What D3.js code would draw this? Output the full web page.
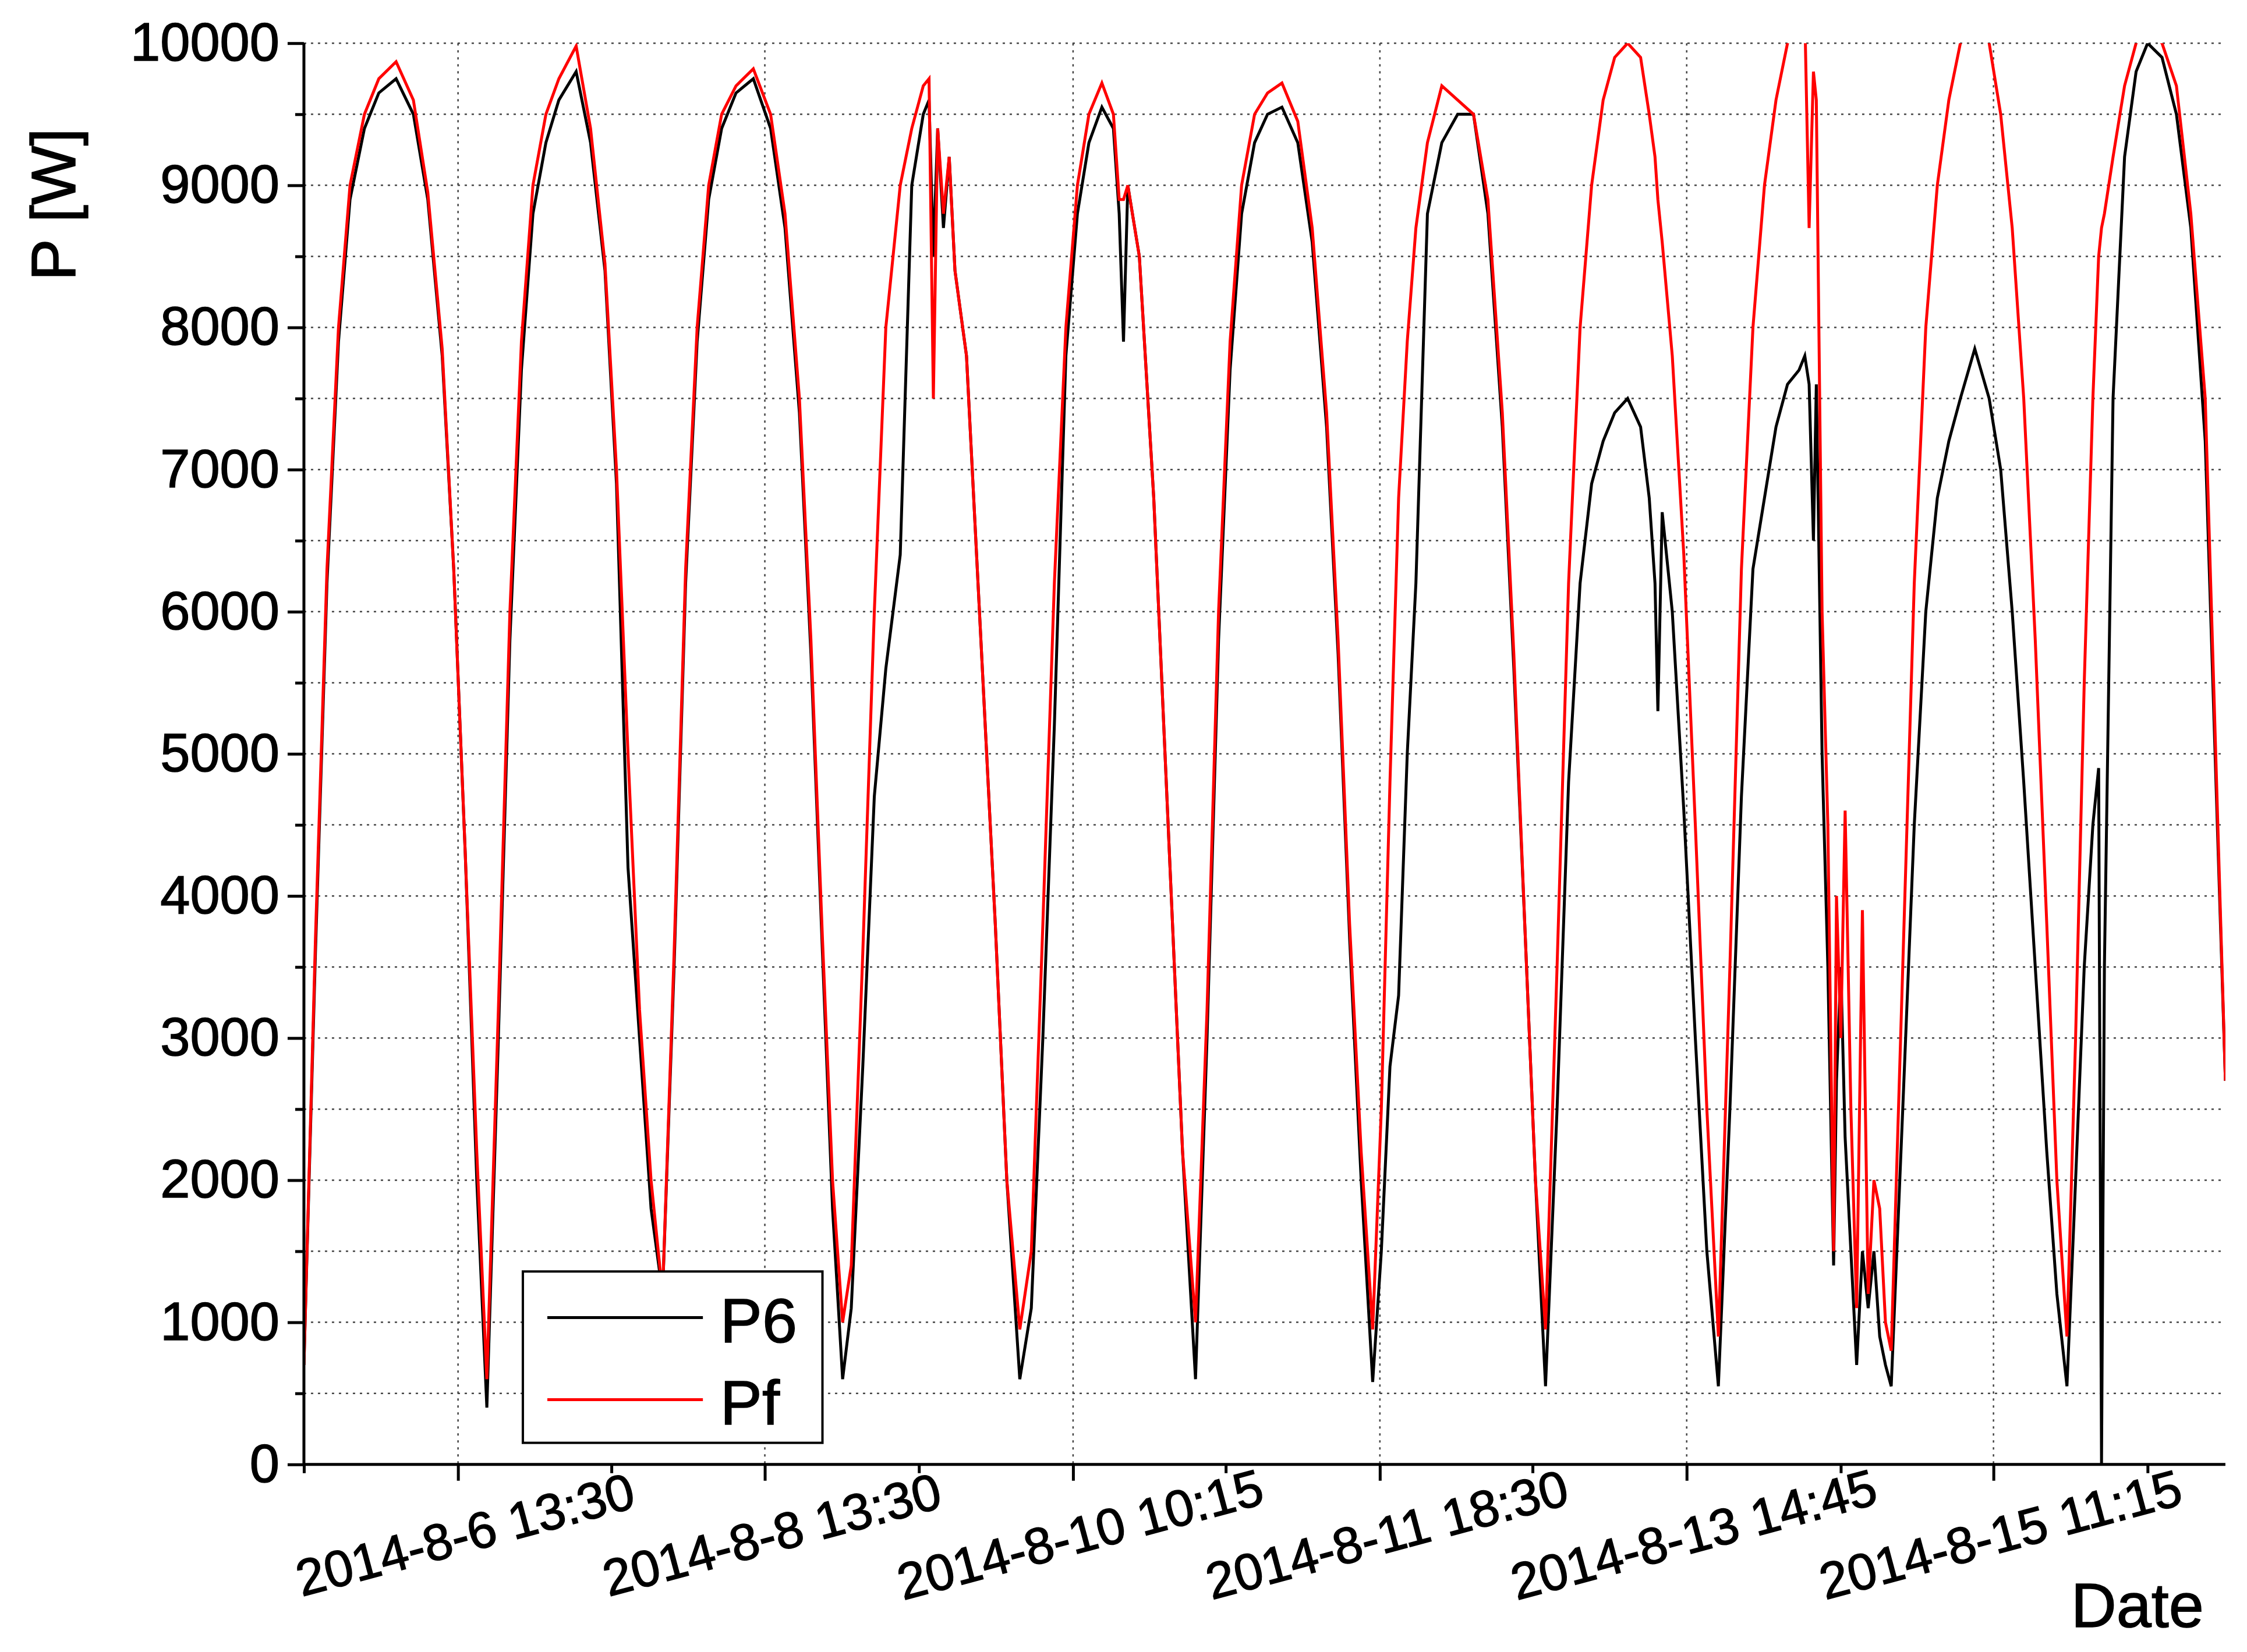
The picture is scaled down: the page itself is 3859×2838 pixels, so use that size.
<!DOCTYPE html><html><head><meta charset="utf-8">
<script src="https://cdn.jsdelivr.net/npm/d3@7"></script>
<style>body{margin:0;background:#fff}</style></head><body>
<svg id="c" width="3859" height="2838"></svg>
<script>
const t=[0,8,16,24,32,42,52,64,76,86,96,104,112,120,127,
135,143,151,159,168,177,189,199,209,217,225,233,241,249,
257,265,273,281,290,300,312,324,334,344,352,360,367,374,
380,388,396,404,414,422,430,434,437,440,444,448,452,460,470,480,488,497,
505,513,521,529,537,545,554,562,566,569,572,580,590,600,610,619,
627,635,643,651,660,669,679,690,700,710,718,726,734,742,
748,754,760,766,772,780,790,801,812,822,832,840,848,855,862,
870,878,886,894,902,910,919,928,934,938,940,943,950,958,966,974,982,
990,998,1006,1014,1022,1030,1038,1042,1045,1048,1050,1054,1058,1062,1064,1067,1070,1074,1078,1082,1086,1090,1094,1098,1102,
1110,1118,1126,1134,1142,1150,1160,1170,1178,1186,1194,1202,1210,1217,1224,
1230,1236,1242,1246,1248,1250,1256,1264,1272,1280,1290,1300,1310,1320,1334];
const P6=[700,3600,6200,7900,8900,9400,9650,9750,9500,8900,7800,6300,4300,2000,400,
3000,5800,7700,8800,9300,9600,9800,9300,8400,6900,4200,3000,1800,1200,
3500,6200,7900,8900,9400,9650,9750,9400,8700,7400,5700,3600,1800,600,
1100,2800,4700,5600,6400,9000,9500,9600,8500,9400,8700,9200,8400,7800,5800,3800,2000,600,
1100,3000,5200,7800,8800,9300,9550,9400,8800,7900,9000,8500,6800,4500,2200,600,
3000,5800,7700,8800,9300,9500,9550,9300,8600,7300,5700,3700,2000,580,
1500,2800,3300,5000,6200,8800,9300,9500,9500,8800,7300,5600,3700,2000,550,
2500,4800,6200,6900,7200,7400,7500,7300,6800,6200,5300,6700,6000,4600,3000,1500,550,
2500,4700,6300,6800,7300,7600,7700,7800,7600,6500,7600,5000,3500,1400,2700,3500,2300,1500,700,1500,1100,1500,900,700,550,
2500,4500,6000,6800,7200,7500,7850,7500,7000,6000,4800,3500,2200,1200,550,
2000,3500,4500,4900,0,3500,7500,9200,9800,10000,9900,9500,8700,7200,2700];
const Pf=[700,3700,6300,8000,9000,9500,9750,9870,9600,8950,7850,6300,4300,2200,600,
3200,6000,7900,9000,9500,9750,9980,9400,8450,7000,5000,3200,2000,1200,
3600,6300,8000,9000,9500,9700,9820,9500,8800,7500,5800,3700,2000,1000,
1400,3600,6000,8000,9000,9400,9700,9750,7500,9400,8800,9200,8400,7800,5800,3800,2000,950,
1500,3800,6200,8000,9000,9500,9720,9500,8900,8900,9000,8500,6800,4500,2200,1000,
3200,6000,7900,9000,9500,9650,9720,9450,8700,7400,5800,3800,2200,950,
2500,4800,6800,7900,8700,9300,9700,9600,9500,8900,7400,5700,3700,2000,950,
3500,6200,8000,9000,9600,9900,10000,9900,9500,9200,8900,8600,7800,6400,4500,2500,900,
3500,6300,8000,9000,9600,10000,10200,10200,8700,9800,9600,6000,4500,1500,4000,3000,4600,2500,1100,3900,1200,2000,1800,1000,800,
3500,6200,8000,9000,9600,10000,10200,10000,9500,8700,7500,5800,3800,2000,900,
3000,5500,7500,8500,8700,8800,9200,9700,10000,10100,10000,9700,8800,7500,2700];
const xTicks=[107,320,534,747,960,1173];
const xLabels=["2014-8-6 13:30","2014-8-8 13:30","2014-8-10 10:15","2014-8-11 18:30","2014-8-13 14:45","2014-8-15 11:15"];
const yTicks=[0,1000,2000,3000,4000,5000,6000,7000,8000,9000,10000];

const k=3859/1560;
const L=211*k,R=1545*k,T=30*k,B=1017*k;
const svg=d3.select("#c");
const x=d3.scaleLinear().domain([0,1334]).range([L,R]);
const y=d3.scaleLinear().domain([0,10000]).range([B,T]);
const font="Liberation Sans, Arial, sans-serif";
const g=svg.append("g");
const minorY=d3.range(500,10000,1000).concat(yTicks.slice(1));
g.selectAll(".gy").data(minorY).join("line").attr("x1",L).attr("x2",R).attr("y1",d=>y(d)).attr("y2",d=>y(d))
 .attr("stroke","#444").attr("stroke-width",2.5).attr("stroke-dasharray","4,8");
g.selectAll(".gx").data(xTicks).join("line").attr("y1",T).attr("y2",B).attr("x1",d=>x(d)).attr("x2",d=>x(d))
 .attr("stroke","#444").attr("stroke-width",2.5).attr("stroke-dasharray","4,8");
svg.append("clipPath").attr("id","cp").append("rect").attr("x",L).attr("y",T).attr("width",R-L).attr("height",B-T);
const idx=d3.range(t.length);
const mk=arr=>d3.line().x(i=>x(t[i])).y(i=>y(arr[i]));
g.append("path").attr("d",mk(P6)(idx)).attr("fill","none").attr("stroke","#000").attr("stroke-width",5).attr("clip-path","url(#cp)");
g.append("path").attr("d",mk(Pf)(idx)).attr("fill","none").attr("stroke","#ff0000").attr("stroke-width",5).attr("clip-path","url(#cp)");
const ya=svg.append("g").attr("transform",`translate(${L},0)`)
 .call(d3.axisLeft(y).tickValues(yTicks).tickSize(28).tickPadding(14).tickFormat(d3.format("d")));
const yMinor=svg.append("g").attr("transform",`translate(${L},0)`).call(d3.axisLeft(y).tickValues(d3.range(500,10000,1000)).tickSize(15).tickFormat(""));
const xa=svg.append("g").attr("transform",`translate(0,${B})`)
 .call(d3.axisBottom(x).tickValues(xTicks).tickSize(28).tickFormat(""));
const xMinor=svg.append("g").attr("transform",`translate(0,${B})`)
 .call(d3.axisBottom(x).tickValues([0,213.5,427,640,853,1067,1280]).tickSize(15).tickFormat(""));
[ya,yMinor,xa,xMinor].forEach(a=>{a.selectAll("path,line").attr("stroke","#000").attr("stroke-width",5);
 a.selectAll("text").attr("font-family",font).attr("font-size",92).attr("fill","#000").attr("stroke","#000").attr("stroke-width",1.5);});
ya.select(".domain").attr("d",`M0,${B}V${T}`);
xa.select(".domain").attr("d",`M${L},0H${R}`);
yMinor.select(".domain").remove();xMinor.select(".domain").remove();
svg.selectAll(".xl").data(xTicks).join("text").attr("font-family",font).attr("font-size",88)
 .attr("stroke","#000").attr("stroke-width",1.5)
 .attr("text-anchor","middle").attr("transform",d=>`translate(${x(d)+20},${B+150}) rotate(-15)`)
 .text((d,i)=>xLabels[i]);
svg.append("text").attr("font-family",font).attr("font-size",108).attr("text-anchor","middle")
 .attr("stroke","#000").attr("stroke-width",1.5)
 .attr("transform",`translate(${52*k},${142*k}) rotate(-90)`).text("P [W]");
svg.append("text").attr("font-family",font).attr("font-size",108).attr("text-anchor","end")
 .attr("stroke","#000").attr("stroke-width",1.5)
 .attr("x",1530*k).attr("y",1130*k).text("Date");
const lg=svg.append("g");
lg.append("rect").attr("x",363*k).attr("y",883*k).attr("width",208*k).attr("height",119*k).attr("fill","#fff").attr("stroke","#000").attr("stroke-width",4);
[["P6","#000",915],["Pf","#ff0000",972]].forEach(([n,c,yy])=>{
 lg.append("line").attr("x1",380*k).attr("x2",488*k).attr("y1",yy*k).attr("y2",yy*k).attr("stroke",c).attr("stroke-width",5);
 lg.append("text").attr("x",500*k).attr("y",(yy+17)*k).attr("font-family",font).attr("font-size",108).attr("stroke","#000").attr("stroke-width",1.5).text(n);
});
</script></body></html>
